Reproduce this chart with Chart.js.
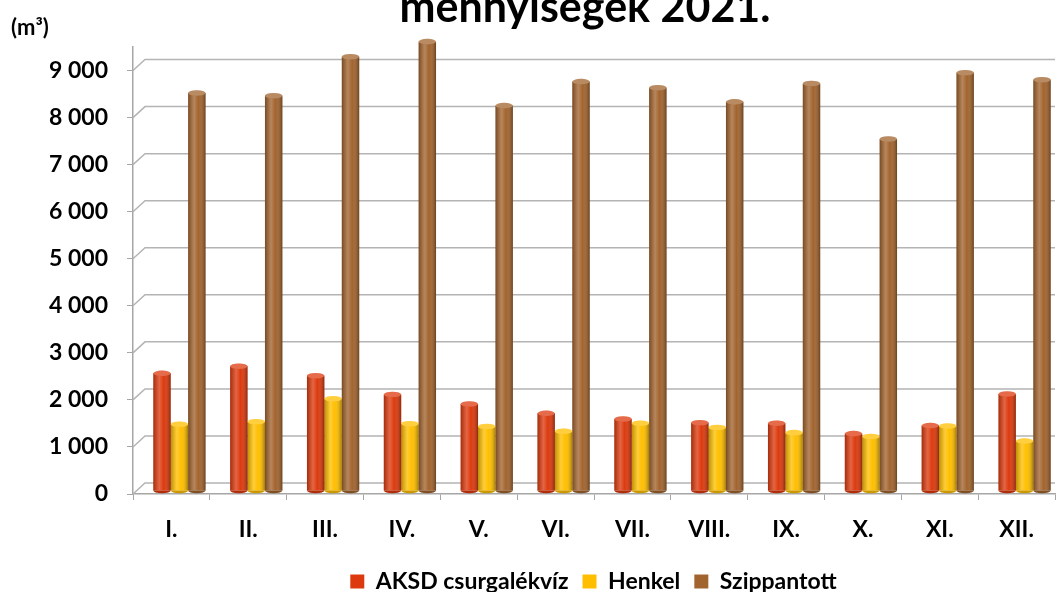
<!DOCTYPE html>
<html>
<head>
<meta charset="utf-8">
<script src="https://cdn.jsdelivr.net/npm/chart.js@4.4.1/dist/chart.umd.min.js"></script>
<style>
    html, body { margin: 0; padding: 0; background: #ffffff; }
    #wrap { width: 1059px; height: 592px; }
</style>
</head>
<body>
<div id="wrap"><canvas id="chart" width="1059" height="592"></canvas></div>
<script>
// Data
const months = ["I.", "II.", "III.", "IV.", "V.", "VI.", "VII.", "VIII.", "IX.", "X.", "XI.", "XII."];
const aksd = [2500, 2650, 2450, 2050, 1850, 1650, 1530, 1450, 1440, 1220, 1390, 2060];
const henkel = [1420, 1470, 1960, 1430, 1370, 1270, 1440, 1350, 1240, 1160, 1380, 1060];
const szippantott = [8460, 8400, 9230, 9550, 8190, 8700, 8570, 8270, 8660, 7480, 8890, 8740];
const yTicks = [0, 1000, 2000, 3000, 4000, 5000, 6000, 7000, 8000, 9000];

const titleText = "mennyiségek 2021.";
const unitText = "(m³)";
const FONT = "Lato, 'Open Sans', sans-serif";

// 3D-ish depth offset of the columns
const DEPTH_X = 8;
const DEPTH_Y = -3;
const LEGEND_SHIFT = 66;

// Title + unit label
const titlePlugin = {
    id: 'titleText',
    afterLayout(chart) {
        // legend sits right of centre in the original
        chart.legend.left += LEGEND_SHIFT;
        chart.legend.right += LEGEND_SHIFT;
    },
    afterDraw(chart) {
        const ctx = chart.ctx;
        ctx.save();
        ctx.fillStyle = '#000';
        ctx.textBaseline = 'alphabetic';
        ctx.textAlign = 'center';
        ctx.font = `bold 43px ${FONT}`;
        ctx.fillText(titleText, 585, 22);
        ctx.textAlign = 'left';
        ctx.font = `bold 22px ${FONT}`;
        ctx.fillText(unitText, 11, 35);
        ctx.restore();
    }
};

// back wall gridlines with slanted joins
const wallPlugin = {
    id: 'wall',
    beforeDatasetsDraw(chart) {
        const ctx = chart.ctx;
        const y = chart.scales.y;
        const area = chart.chartArea;
        ctx.save();
        ctx.strokeStyle = '#b4b4b4';
        ctx.lineWidth = 1.5;
        yTicks.forEach(v => {
            const py = y.getPixelForValue(v);
            ctx.beginPath();
            ctx.moveTo(area.left, py);
            ctx.lineTo(area.left + 12, py - 11);
            ctx.lineTo(area.right, py - 11);
            ctx.stroke();
        });
        ctx.restore();
        // shift the columns a bit to the back
        ctx.save();
        ctx.translate(DEPTH_X, DEPTH_Y);
    },
    afterDatasetsDraw(chart) {
        const ctx = chart.ctx;
        // cylinder shading
        chart.data.datasets.forEach((ds, i) => {
            const meta = chart.getDatasetMeta(i);
            meta.data.forEach(bar => {
                const w = bar.width;
                const left = bar.x - w / 2;
                const g = ctx.createLinearGradient(left, 0, left + w, 0);
                g.addColorStop(0, 'rgba(0,0,0,0.25)');
                g.addColorStop(0.35, 'rgba(255,255,255,0.22)');
                g.addColorStop(0.6, 'rgba(255,255,255,0)');
                g.addColorStop(1, 'rgba(0,0,0,0.35)');
                ctx.fillStyle = g;
                ctx.fillRect(left, bar.y, w, bar.base - bar.y);
                // bottom rounding
                ctx.beginPath();
                ctx.ellipse(bar.x, bar.base, w / 2, w * 0.16, 0, 0, Math.PI);
                ctx.fillStyle = ds.backgroundColor;
                ctx.fill();
                ctx.fillStyle = 'rgba(0,0,0,0.2)';
                ctx.fill();
                // top cap
                ctx.beginPath();
                ctx.ellipse(bar.x, bar.y, w / 2, w * 0.16, 0, 0, Math.PI * 2);
                ctx.fillStyle = ds.backgroundColor;
                ctx.fill();
                ctx.fillStyle = 'rgba(255,255,255,0.25)';
                ctx.fill();
            });
        });
        ctx.restore();
    }
};

new Chart(document.getElementById('chart'), {
    type: 'bar',
    data: {
        labels: months,
        datasets: [
            { label: 'AKSD csurgalékvíz', data: aksd, backgroundColor: '#dc3a0e' },
            { label: 'Henkel', data: henkel, backgroundColor: '#ffbf00' },
            { label: 'Szippantott', data: szippantott, backgroundColor: '#a2642e' }
        ]
    },
    options: {
        responsive: false,
        animation: false,
        layout: { padding: { top: 47, right: 4, left: 0, bottom: -11 } },
        datasets: {
            bar: { barPercentage: 1, categoryPercentage: 0.68, clip: false, borderWidth: 0 }
        },
        scales: {
            y: {
                min: 0,
                max: 9500,
                afterFit: s => { s.width = 133; },
                afterBuildTicks: s => { s.ticks = yTicks.map(v => ({ value: v })); },
                border: { display: true, color: '#a6a6a6', width: 1.5 },
                grid: { drawOnChartArea: false, tickLength: 6, color: '#a6a6a6' },
                ticks: {
                    padding: 19,
                    color: '#000',
                    font: { family: FONT, size: 23, weight: 'bold' },
                    callback: v => v === 0 ? '0' : Math.floor(v / 1000) + ' 000'
                }
            },
            x: {
                offset: true,
                afterFit: s => { s.height = 62; },
                border: { display: true, color: '#a6a6a6', width: 1.5 },
                grid: { drawOnChartArea: false, tickLength: 6, color: '#a6a6a6', offset: true },
                ticks: {
                    padding: 16,
                    color: '#000',
                    font: { family: FONT, size: 23, weight: 'bold' }
                }
            }
        },
        plugins: {
            legend: {
                position: 'bottom',
                labels: {
                    boxWidth: 14,
                    boxHeight: 14,
                    padding: 14,
                    color: '#000',
                    font: { family: FONT, size: 23, weight: 'bold' }
                }
            },
            tooltip: { enabled: false },
            title: { display: false }
        }
    },
    plugins: [wallPlugin, titlePlugin]
});
</script>
</body>
</html>
